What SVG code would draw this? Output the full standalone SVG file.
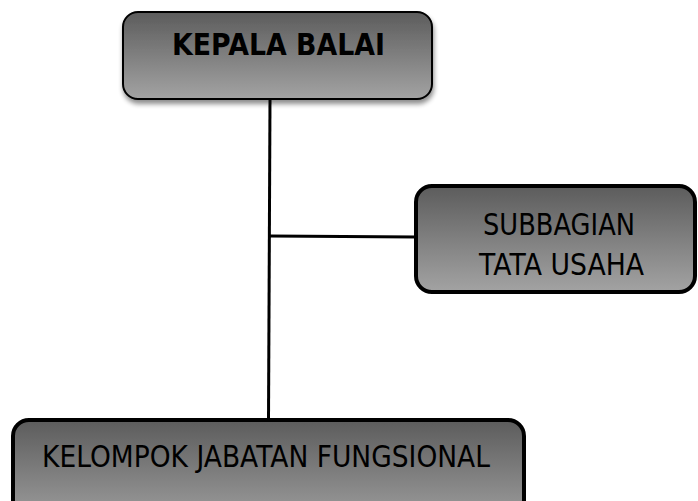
<svg xmlns="http://www.w3.org/2000/svg" width="698" height="501" viewBox="0 0 698 501">
  <defs>
    <linearGradient id="g" x1="0" y1="0" x2="0" y2="1">
      <stop offset="0" stop-color="#5c5c5c"/>
      <stop offset="1" stop-color="#a3a3a3"/>
    </linearGradient>
    <filter id="sh" x="-10%" y="-10%" width="120%" height="130%">
      <feGaussianBlur in="SourceAlpha" stdDeviation="2.5"/>
      <feOffset dx="1" dy="4" result="b"/>
      <feComponentTransfer><feFuncA type="linear" slope="0.45"/></feComponentTransfer>
      <feMerge><feMergeNode/><feMergeNode in="SourceGraphic"/></feMerge>
    </filter>
  </defs>
  <style>
    .box { fill: url(#g); stroke: #000; }
    .thin { stroke-width: 2; }
    .thick { stroke-width: 4; }
    .lbl { font-family: "DejaVu Sans", Tahoma, sans-serif; fill: #000; }
    .b { font-weight: bold; font-size: 31px; }
    .r { font-size: 30px; }
    .conn { stroke: #000; stroke-width: 3; fill: none; }
  </style>
  <rect width="698" height="501" fill="#fff"/>
  <g id="connectors">
    <line class="conn" x1="270" y1="99" x2="268.5" y2="420"/>
    <line class="conn" x1="270" y1="236" x2="416" y2="237"/>
  </g>
  <g id="kepala-balai">
    <rect class="box thin" x="123" y="12" width="309" height="87" rx="15" filter="url(#sh)"/>
    <text class="lbl b" x="278.5" y="55" text-anchor="middle" textLength="213" lengthAdjust="spacingAndGlyphs">KEPALA BALAI</text>
  </g>
  <g id="subbagian-tata-usaha">
    <rect class="box thick" x="416" y="186" width="279" height="106" rx="16"/>
    <text class="lbl r" x="559" y="234.5" text-anchor="middle" textLength="152" lengthAdjust="spacingAndGlyphs">SUBBAGIAN</text>
    <text class="lbl r" x="561.5" y="274.5" text-anchor="middle" textLength="165" lengthAdjust="spacingAndGlyphs">TATA USAHA</text>
  </g>
  <g id="kelompok-jabatan-fungsional">
    <rect class="box thick" x="13" y="420" width="511" height="110" rx="16"/>
    <text class="lbl r" x="266" y="467" text-anchor="middle" textLength="448" lengthAdjust="spacingAndGlyphs">KELOMPOK JABATAN FUNGSIONAL</text>
  </g>
</svg>
